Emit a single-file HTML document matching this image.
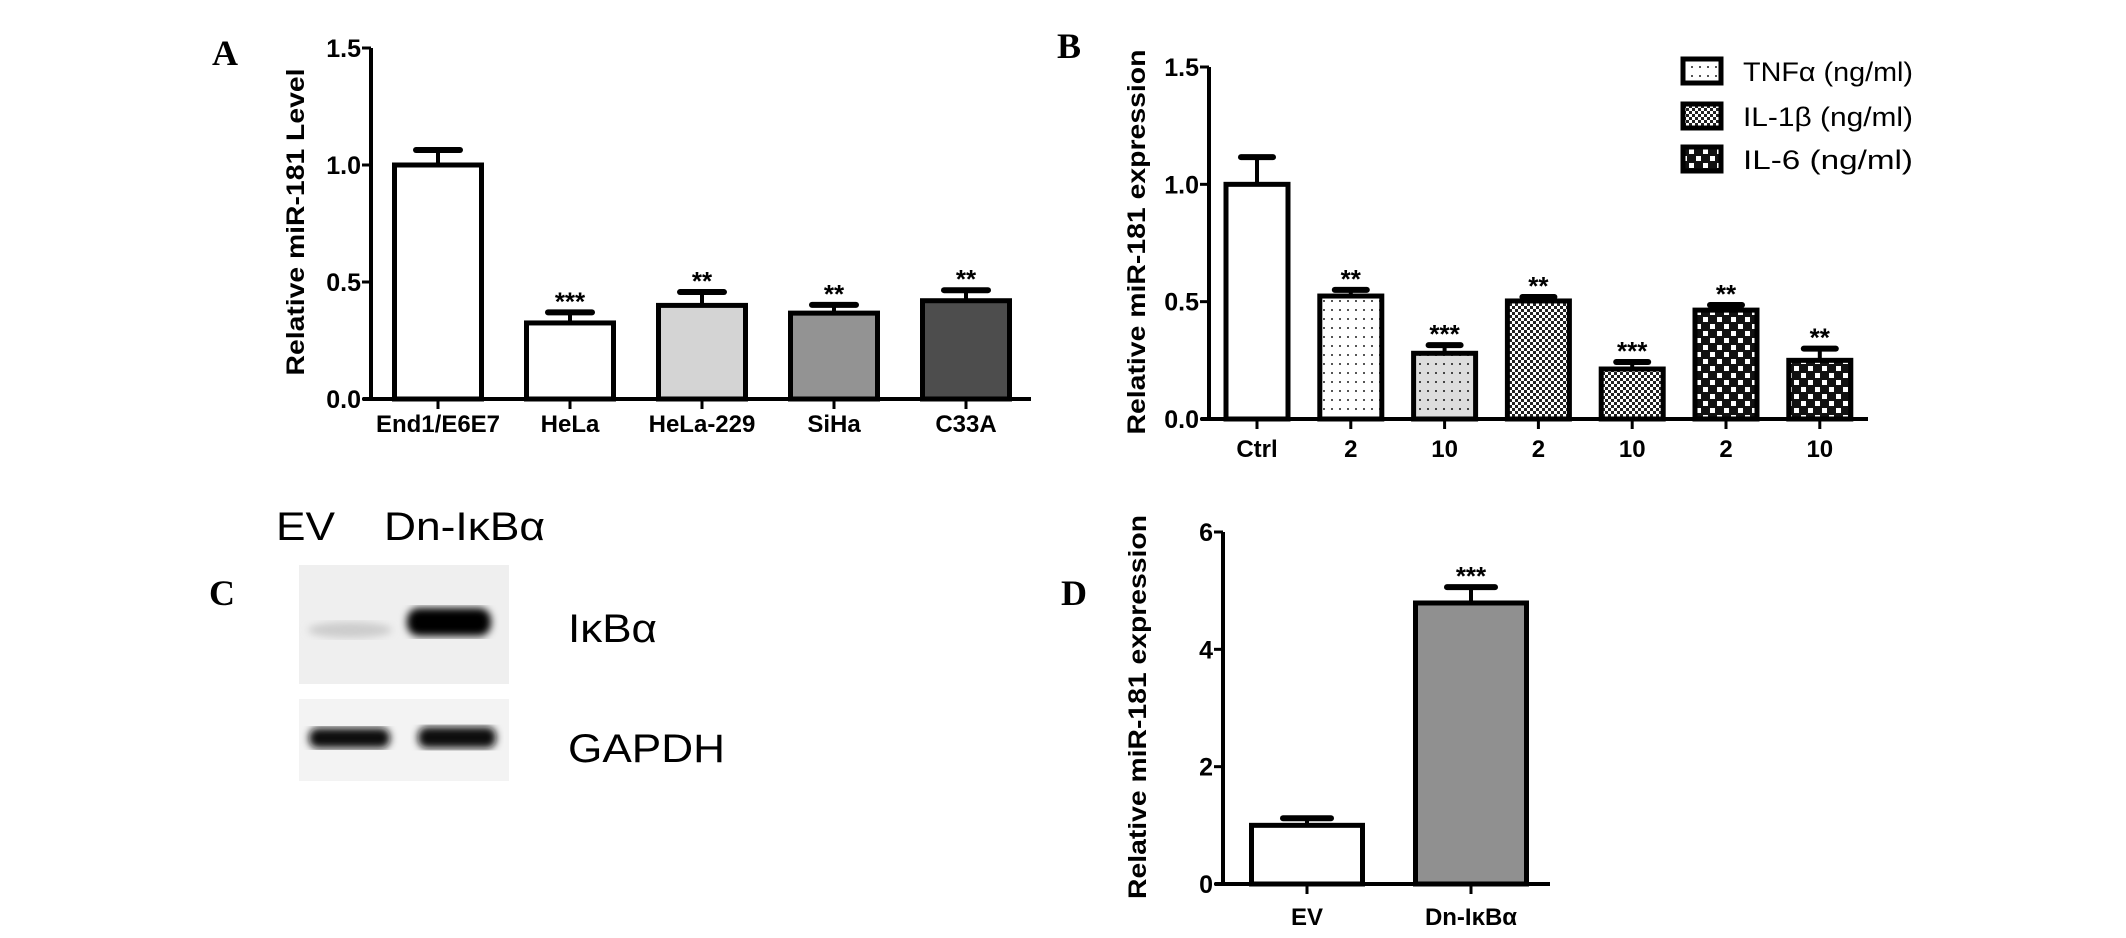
<!DOCTYPE html>
<html><head><meta charset="utf-8"><style>
html,body{margin:0;padding:0;background:#fff;}
svg{display:block;}
text{font-family:"Liberation Sans",Arial,sans-serif;}
.serif{font-family:"Liberation Serif",serif;font-weight:bold;}
</style></head><body>
<svg id="fig" width="2126" height="938" viewBox="0 0 2126 938" xmlns="http://www.w3.org/2000/svg">
<defs>
<pattern id="pDots" width="8" height="9" patternUnits="userSpaceOnUse"><rect width="8" height="9" fill="#fff"/><rect x="3" y="3" width="2" height="2" fill="#555"/></pattern>
<pattern id="pDots2" width="8" height="9" patternUnits="userSpaceOnUse"><rect width="8" height="9" fill="#ddd"/><rect x="3" y="3" width="2" height="2" fill="#444"/></pattern>
<pattern id="pFine" width="6" height="6" patternUnits="userSpaceOnUse"><rect width="6" height="6" fill="#fff"/><rect width="3" height="3" fill="#222"/><rect x="3" y="3" width="3" height="3" fill="#222"/></pattern>
<pattern id="pBig" width="14" height="14" patternUnits="userSpaceOnUse"><rect width="14" height="14" fill="#111"/><rect x="2" y="2" width="5" height="5" fill="#fff"/><rect x="9" y="9" width="5" height="5" fill="#fff"/></pattern>
<filter id="blur4"><feGaussianBlur stdDeviation="4"/></filter>
</defs>

<text class="serif" x="212" y="65" font-size="36">A</text>
<text class="serif" x="1057" y="58" font-size="36">B</text>
<text class="serif" x="209" y="605" font-size="36">C</text>
<text class="serif" x="1061" y="605" font-size="36">D</text>

<g>
<text x="276" y="540" font-size="40" textLength="59" lengthAdjust="spacingAndGlyphs">EV</text>
<text x="384" y="540" font-size="40" textLength="161" lengthAdjust="spacingAndGlyphs">Dn-IκBα</text>
<rect x="299" y="565" width="210" height="119" fill="#efefef"/>
<ellipse cx="350" cy="630" rx="42" ry="8" fill="#ccc" filter="url(#blur4)"/>
<rect x="407" y="608" width="84" height="28" rx="12" fill="#000" filter="url(#blur4)"/>
<rect x="299" y="699" width="210" height="82" fill="#f3f3f3"/>
<rect x="309" y="728" width="81" height="20" rx="9" fill="#111" filter="url(#blur4)"/>
<rect x="418" y="727" width="78" height="21" rx="9" fill="#111" filter="url(#blur4)"/>
<text x="568" y="642" font-size="40" textLength="89" lengthAdjust="spacingAndGlyphs">IκBα</text>
<text x="568" y="762" font-size="40" textLength="157" lengthAdjust="spacingAndGlyphs">GAPDH</text>
</g>
</svg>
<script>
const catsA = ["End1/E6E7","HeLa","HeLa-229","SiHa","C33A"];
const valsA = [1.0,0.325,0.40,0.367,0.42];
const errA = [0.064,0.045,0.057,0.035,0.045];
const starsA = ["","***","**","**","**"];
const ticksA = [0,0.5,1.0,1.5];
const tickLabelsA = ["0.0","0.5","1.0","1.5"];

const catsB = ["Ctrl","2","10","2","10","2","10"];
const valsB = [1.0,0.524,0.28,0.503,0.213,0.464,0.25];
const errB = [0.116,0.026,0.035,0.017,0.03,0.022,0.05];
const starsB = ["","**","***","**","***","**","**"];
const ticksB = [0,0.5,1.0,1.5];
const tickLabelsB = ["0.0","0.5","1.0","1.5"];
const legendB = ["TNFα (ng/ml)","IL-1β (ng/ml)","IL-6   (ng/ml)"];

const catsD = ["EV","Dn-IκBα"];
const valsD = [1.0,4.79];
const errD = [0.12,0.27];
const starsD = ["","***"];
const ticksD = [0,2,4,6];
const tickLabelsD = ["0","2","4","6"];

const NS="http://www.w3.org/2000/svg";
const svg=document.getElementById('fig');
function mk(tag,attrs,parent){const e=document.createElementNS(NS,tag);for(const k in attrs)e.setAttribute(k,attrs[k]);(parent||svg).appendChild(e);return e;}

function chart(cfg){
  const g=mk('g',{});
  
  
  const y=v=>cfg.y0-(v-cfg.min)/(cfg.max-cfg.min)*(cfg.y0-cfg.yTop);
  const x=i=>cfg.x0+cfg.first+i*cfg.step;
  cfg.vals.forEach((v,i)=>{
    const cx=x(i), top=y(v);
    const ln=mk('line',{x1:cx,x2:cx,y1:top,y2:y(v+cfg.err[i]),stroke:'#000','stroke-width':4},g);
    
    
    const cap=mk('line',{x1:cx-cfg.capW,x2:cx+cfg.capW,y1:y(v+cfg.err[i]),y2:y(v+cfg.err[i]),stroke:'#000','stroke-width':6,'stroke-linecap':'round'},g);
    
    
    const r=mk('rect',{x:cx-cfg.bw/2,y:top,width:cfg.bw,height:cfg.y0-top,fill:cfg.fills[i],stroke:'#000','stroke-width':5},g);
    
    
    if(cfg.stars[i]){
      const s=mk('text',{x:cx,y:y(v+cfg.err[i])-2,'text-anchor':'middle','font-size':26,'font-weight':'bold'},g);
      s.textContent=cfg.stars[i];
      
      
    }
    const tk=mk('line',{x1:cx,x2:cx,y1:cfg.y0,y2:cfg.y0+10,stroke:'#000','stroke-width':3},g);
    
    
    const lb=mk('text',{x:cx,y:cfg.xLabY,'text-anchor':'middle','font-size':cfg.xFont,'font-weight':'bold'},g);
    lb.textContent=cfg.cats[i];
    
    
  });
  const ya=mk('line',{x1:cfg.x0,x2:cfg.x0,y1:cfg.yTop,y2:cfg.y0+2,stroke:'#000','stroke-width':4},g);
  
  
  const xa=mk('line',{x1:cfg.x0-8,x2:cfg.xEnd,y1:cfg.y0,y2:cfg.y0,stroke:'#000','stroke-width':4},g);
  
  
  cfg.ticks.forEach((t,i)=>{
    const tl=mk('line',{x1:cfg.x0-9,x2:cfg.x0,y1:y(t),y2:y(t),stroke:'#000','stroke-width':3},g);
    
    
    const tx=mk('text',{x:cfg.x0-10,y:y(t)+9,'text-anchor':'end','font-size':25,'font-weight':'bold'},g);
    tx.textContent=cfg.tickLabels[i];
    
    
  });
  const tt=mk('text',{x:0,y:0,'text-anchor':'middle','font-size':25,'font-weight':'bold',transform:`translate(${cfg.titleX},${cfg.titleY}) rotate(-90)`,textLength:cfg.titleLen,lengthAdjust:'spacingAndGlyphs'},g);
  tt.textContent=cfg.title;
  
  
  return g;
}

chart({name:'chart-a-cell-lines',cats:catsA,vals:valsA,err:errA,stars:starsA,ticks:ticksA,tickLabels:tickLabelsA,
  min:0,max:1.5,x0:371,xEnd:1031,y0:399,yTop:48,first:67,step:132,bw:87,capW:22,
  fills:['#fff','#fff','#d4d4d4','#939393','#4d4d4d'],xLabY:432,xFont:24,
  title:'Relative miR-181 Level',titleX:304,titleY:222,titleLen:307});

chart({name:'chart-b-cytokines',cats:catsB,vals:valsB,err:errB,stars:starsB,ticks:ticksB,tickLabels:tickLabelsB,
  min:0,max:1.5,x0:1209,xEnd:1868,y0:419,yTop:67,first:48,step:93.8,bw:62,capW:16,
  fills:['#fff','url(#pDots)','url(#pDots2)','url(#pFine)','url(#pFine)','url(#pBig)','url(#pBig)'],xLabY:457,xFont:24,
  title:'Relative miR-181 expression',titleX:1145,titleY:242,titleLen:385});

chart({name:'chart-d-dn-ikba',cats:catsD,vals:valsD,err:errD,stars:starsD,ticks:ticksD,tickLabels:tickLabelsD,
  min:0,max:6,x0:1223,xEnd:1550,y0:884,yTop:532,first:84,step:164,bw:111,capW:24,
  fills:['#fff','#909090'],xLabY:925,xFont:24,
  title:'Relative miR-181 expression',titleX:1146,titleY:707,titleLen:384});

const legFills=['url(#pDots)','url(#pFine)','url(#pBig)'];
const legY=[59,104,147];
legendB.forEach((t,i)=>{
  const r=mk('rect',{x:1683,y:legY[i],width:38,height:24,fill:legFills[i],stroke:'#000','stroke-width':5});
  
  
  const tx=mk('text',{x:1743,y:legY[i]+22,'font-size':27,textLength:170,lengthAdjust:'spacingAndGlyphs'});
  tx.textContent=t;
  
  
});
</script>
</body></html>
